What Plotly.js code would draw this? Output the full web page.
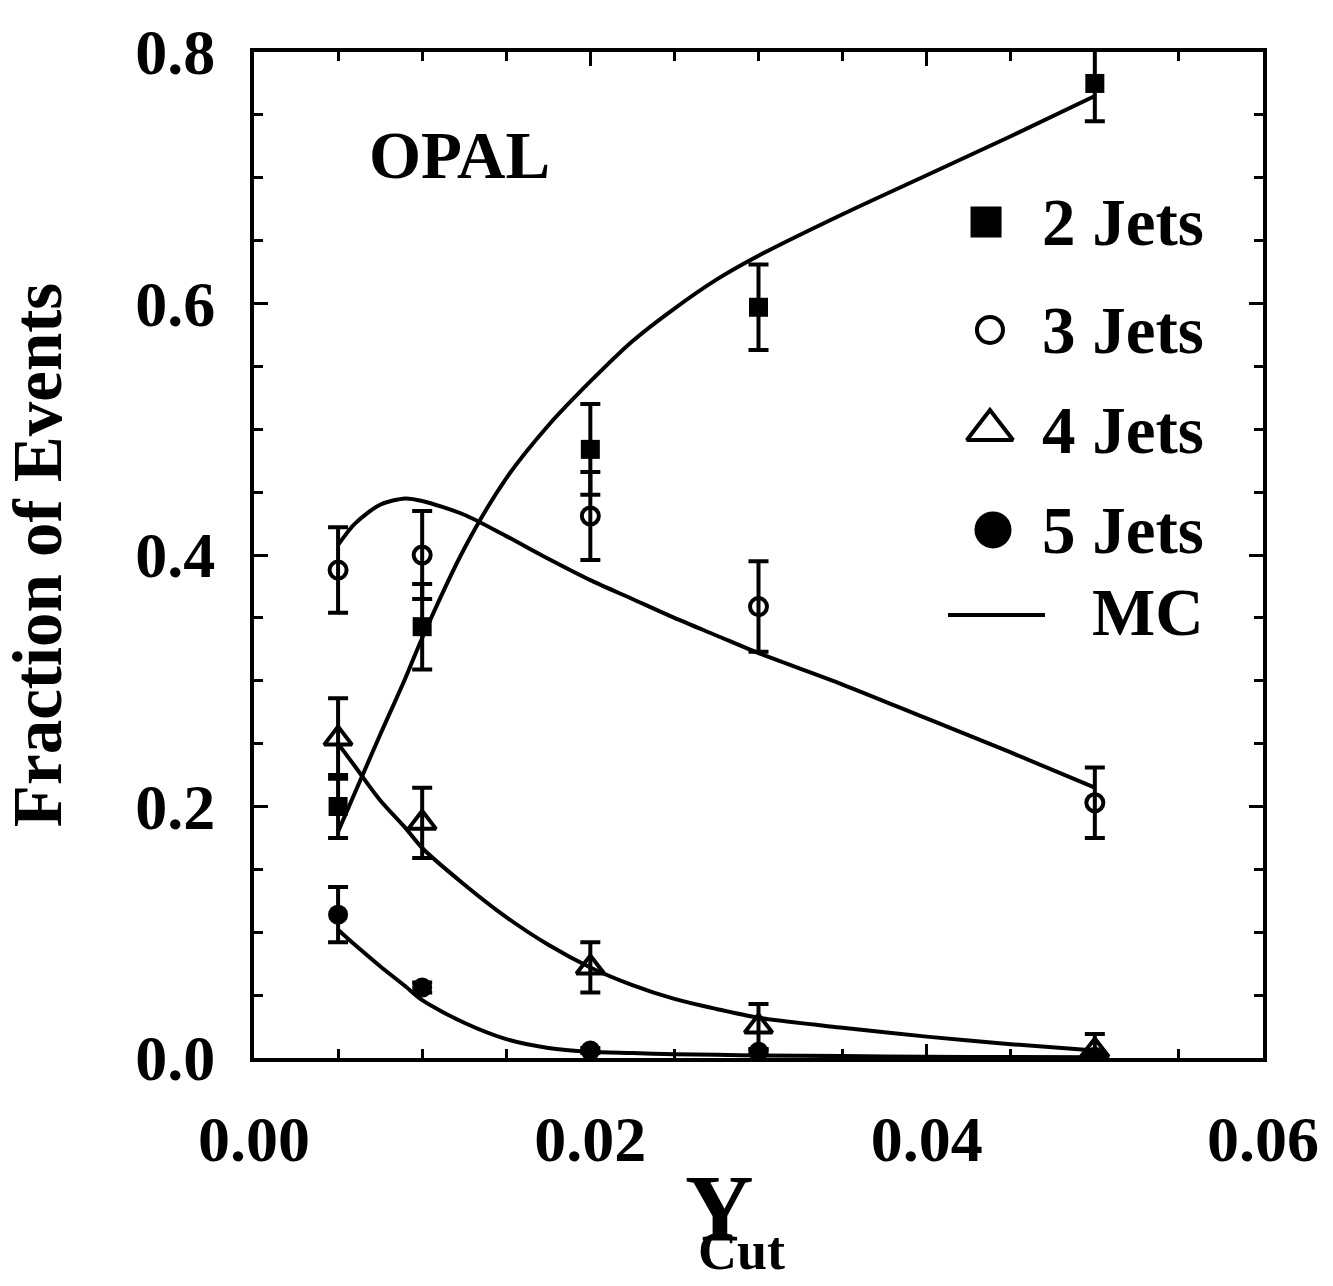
<!DOCTYPE html>
<html>
<head>
<meta charset="utf-8">
<script src="https://cdn.plot.ly/plotly-3.0.1.min.js"></script>
<style>html,body{margin:0;padding:0;background:#fff;}#chart{width:1333px;height:1286px;}</style>
</head>
<body>
<div id="chart"></div>
<script>
// ---- data ----
const ycut = [0.005, 0.01, 0.02, 0.03, 0.05];

const jets2    = [0.200, 0.343, 0.484, 0.597, 0.775];
const jets2Err = [0.025, 0.034, 0.036, 0.034, 0.030];

const jets3    = [0.388, 0.400, 0.431, 0.359, 0.203];
const jets3Err = [0.034, 0.035, 0.035, 0.036, 0.028];

const jets4    = [0.254, 0.187, 0.072, 0.025, 0.006];
const jets4Err = [0.032, 0.028, 0.020, 0.018, 0.013];

const jets5    = [0.114, 0.056, 0.006, 0.005, 0.001];
const jets5Err = [0.022, 0.004, 0.002, 0.002, 0.001];

// Monte Carlo curves
const mcX = [0.005, 0.006, 0.0075, 0.009, 0.01, 0.0125, 0.015, 0.0175, 0.02, 0.0225, 0.025, 0.0275, 0.03, 0.035, 0.04, 0.045, 0.05];
const mc2 = [0.180, 0.211, 0.257, 0.302, 0.334, 0.405, 0.461, 0.503, 0.538, 0.570, 0.596, 0.619, 0.638, 0.671, 0.702, 0.733, 0.765];
const mc3 = [0.408, 0.425, 0.440, 0.445, 0.443, 0.432, 0.415, 0.397, 0.380, 0.365, 0.350, 0.336, 0.322, 0.297, 0.270, 0.243, 0.215];
const mc4 = [0.250, 0.232, 0.205, 0.183, 0.167, 0.138, 0.112, 0.090, 0.072, 0.058, 0.047, 0.039, 0.032, 0.024, 0.017, 0.011, 0.006];
const mc5 = [0.102, 0.090, 0.073, 0.057, 0.046, 0.028, 0.015, 0.008, 0.005, 0.004, 0.003, 0.0025, 0.002, 0.0015, 0.001, 0.0008, 0.0005];

const seriesNames = ["2 Jets", "3 Jets", "4 Jets", "5 Jets", "MC"];
const xTickVals = [0.00, 0.02, 0.04, 0.06];
const yTickVals = [0.0, 0.2, 0.4, 0.6, 0.8];

// ---- styling ----
const FONT = "Liberation Serif, Times New Roman, serif";
const BLK = "#000";

function errBar(arr) {
  return {type: "data", array: arr, visible: true, color: BLK, thickness: 4, width: 10};
}
function mcTrace(y) {
  return {x: mcX, y: y, mode: "lines", line: {color: BLK, width: 4, shape: "spline", smoothing: 0.8},
          showlegend: false, hoverinfo: "skip"};
}

const traces = [
  mcTrace(mc2), mcTrace(mc3), mcTrace(mc4), mcTrace(mc5),
  {x: ycut, y: jets2, mode: "markers", name: seriesNames[0], showlegend: false, error_y: errBar(jets2Err),
   marker: {symbol: "square", size: 19, color: BLK}},
  {x: ycut, y: jets3, mode: "markers", name: seriesNames[1], showlegend: false, error_y: errBar(jets3Err),
   marker: {symbol: "circle-open", size: 17, color: BLK, line: {width: 4, color: BLK}}},
  {x: ycut, y: jets4, mode: "markers", name: seriesNames[2], showlegend: false, error_y: errBar(jets4Err),
   marker: {symbol: "triangle-up-open", size: 24, color: BLK, line: {width: 4, color: BLK}}},
  {x: ycut, y: jets5, mode: "markers", name: seriesNames[3], showlegend: false, error_y: errBar(jets5Err),
   marker: {symbol: "circle", size: 20, color: BLK}},
];

// ---- custom legend drawn on an overlay axis pair (0..1 over the plot area) ----
const legendRows = [
  {sym: "square",           size: 31, lx: 0.7255, ly: 0.831,  open: false},
  {sym: "circle-open",      size: 26, lx: 0.7294, ly: 0.7237, open: true},
  {sym: "triangle-up-open", size: 40, lx: 0.7294, ly: 0.6243, open: true},
  {sym: "circle",           size: 37, lx: 0.7324, ly: 0.5249, open: false},
];
legendRows.forEach(r => {
  traces.push({x: [r.lx], y: [r.ly], xaxis: "x2", yaxis: "y2", mode: "markers", showlegend: false, hoverinfo: "skip",
    marker: {symbol: r.sym, size: r.size, color: BLK, line: {width: r.open ? 4 : 0, color: BLK}}});
});
traces.push({x: [0.6878, 0.7839], y: [0.4404, 0.4404], xaxis: "x2", yaxis: "y2", mode: "lines",
  showlegend: false, hoverinfo: "skip", line: {color: BLK, width: 4}});

const legendTextY = [0.831, 0.7237, 0.6243, 0.5249, 0.4434];
const annotations = seriesNames.map((n, i) => ({
  xref: "paper", yref: "paper", x: 0.9435, y: legendTextY[i], xanchor: "right", yanchor: "middle",
  text: n, showarrow: false, font: {family: FONT, size: 67, color: BLK, weight: 700}
}));
annotations.push({xref: "paper", yref: "paper", x: 0.204, y: 0.8976, xanchor: "center", yanchor: "middle",
  text: "OPAL", showarrow: false, font: {family: FONT, size: 67, color: BLK, weight: 700}});
// x-axis title: large Y with subscript "Cut"
annotations.push({xref: "paper", yref: "paper", x: 0.461, y: -0.150, xanchor: "center", yanchor: "middle",
  text: "Y", showarrow: false, font: {family: FONT, size: 95, color: BLK, weight: 700}});
annotations.push({xref: "paper", yref: "paper", x: 0.4835, y: -0.192, xanchor: "center", yanchor: "middle",
  text: "Cut", showarrow: false, font: {family: FONT, size: 54, color: BLK, weight: 700}});

const axisCommon = {
  showline: true, linecolor: BLK, linewidth: 4, mirror: "allticks",
  ticks: "inside", ticklen: 14, tickwidth: 3, tickcolor: BLK,
  showgrid: false, zeroline: false,
  tickfont: {family: FONT, size: 64, color: BLK, weight: 700},
  ticklabelstandoff: 22,
};

const layout = {
  width: 1333, height: 1286,
  paper_bgcolor: "#fff", plot_bgcolor: "#fff",
  margin: {l: 254, r: 70, t: 52, b: 228},
  showlegend: false,
  xaxis: Object.assign({}, axisCommon, {
    range: [0, 0.06], tickvals: xTickVals, tickformat: ".2f",
    minor: {dtick: 0.005, ticks: "inside", ticklen: 9, tickwidth: 3, tickcolor: BLK, showgrid: false}
  }),
  yaxis: Object.assign({}, axisCommon, {
    range: [0, 0.8], tickvals: yTickVals, tickformat: ".1f",
    minor: {dtick: 0.05, ticks: "inside", ticklen: 9, tickwidth: 3, tickcolor: BLK, showgrid: false},
    title: {text: "Fraction of Events", font: {family: FONT, size: 69, color: BLK, weight: 700}, standoff: 58}
  }),
  xaxis2: {overlaying: "x", range: [0, 1], visible: false, fixedrange: true},
  yaxis2: {overlaying: "y", range: [0, 1], visible: false, fixedrange: true},
  annotations: annotations,
};

Plotly.newPlot("chart", traces, layout, {staticPlot: true});
</script>
</body>
</html>
